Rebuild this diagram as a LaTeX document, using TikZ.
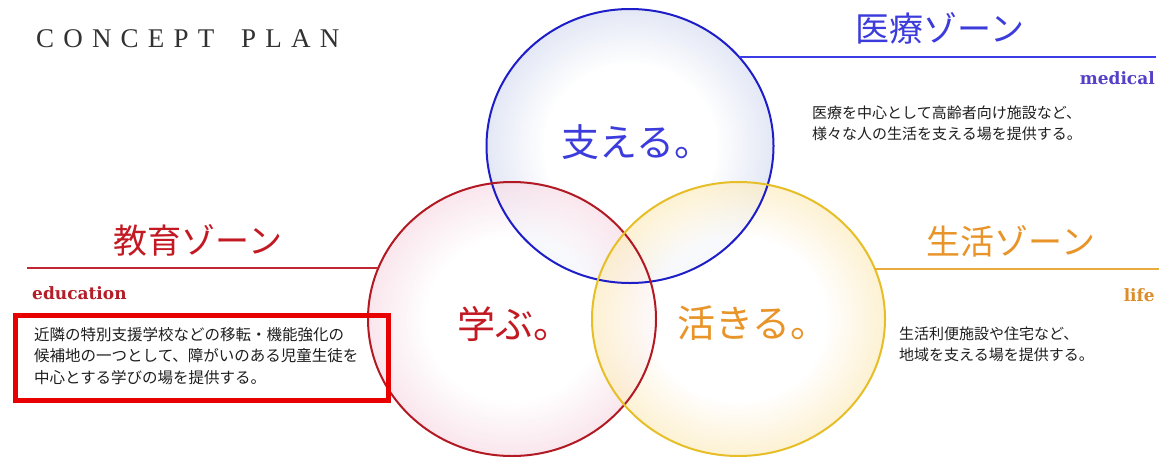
\documentclass[tikz,border=0pt]{standalone}
\usepackage{fontspec}
\setmainfont{Liberation Serif}
\newfontfamily\jp{Noto Sans CJK JP}
\newfontfamily\cpfont[LetterSpace=34]{Liberation Serif}
\newfontfamily\tagfont{DejaVu Serif}
\usetikzlibrary{shapes.geometric}
\definecolor{bluestroke}{RGB}{30,30,200}
\definecolor{bluetint}{RGB}{216,222,242}
\definecolor{redstroke}{RGB}{178,25,35}
\definecolor{redtint}{RGB}{248,220,230}
\definecolor{yelstroke}{RGB}{230,190,40}
\definecolor{yeltint}{RGB}{253,236,192}
\definecolor{bluetext}{RGB}{60,60,220}
\definecolor{redtext}{RGB}{195,25,35}
\definecolor{orgtext}{RGB}{232,148,40}
\definecolor{blueline}{RGB}{60,60,230}
\definecolor{redline}{RGB}{190,40,50}
\definecolor{yelline}{RGB}{235,170,60}
\definecolor{boxred}{RGB}{232,0,0}
\definecolor{desccol}{RGB}{30,30,30}
\definecolor{cpcol}{RGB}{50,50,50}
\definecolor{medcol}{RGB}{85,65,200}
\definecolor{educol}{RGB}{180,30,40}
\definecolor{lifecol}{RGB}{220,140,40}
\pgfdeclareradialshading{blueshade}{\pgfpoint{0bp}{0bp}}{color(0bp)=(white); color(15bp)=(white); color(25bp)=(bluetint); color(50bp)=(bluetint)}
\pgfdeclareradialshading{redshade}{\pgfpoint{0bp}{0bp}}{color(0bp)=(white); color(15bp)=(white); color(25bp)=(redtint); color(50bp)=(redtint)}
\pgfdeclareradialshading{yelshade}{\pgfpoint{0bp}{0bp}}{color(0bp)=(white); color(15bp)=(white); color(25bp)=(yeltint); color(50bp)=(yeltint)}
\begin{document}
\begin{tikzpicture}[x=1pt,y=-1pt,
  disc/.style={ellipse, inner sep=0pt, outer sep=0pt, fill opacity=0.7},
  rim/.style={line width=2pt},
  zone/.style={font=\jp\fontsize{34}{34}\selectfont, inner sep=0pt},
  desc/.style={font=\jp\fontsize{15}{21}\selectfont, text=desccol, align=left, inner sep=0pt, anchor=north west},
  tag/.style={font=\tagfont\bfseries\fontsize{17}{17}\selectfont, inner sep=0pt},
  big/.style={font=\jp\fontsize{38}{38}\selectfont, inner sep=0pt, anchor=west},
  zline/.style={line width=2pt}]
\useasboundingbox[fill=white] (0,0) rectangle (1159,456);
% circles (shaded)
\node[disc, minimum width=287pt, minimum height=274pt, shading=blueshade] (blue) at (630,146) {};
\node[disc, minimum width=288pt, minimum height=274pt, shading=redshade] (red) at (512,319) {};
\node[disc, minimum width=293pt, minimum height=274pt, shading=yelshade] (yel) at (738.5,319) {};
% rims
\draw[rim, bluestroke] (blue.center) ellipse [x radius=143.5pt, y radius=137pt];
\draw[rim, redstroke] (red.center) ellipse [x radius=144pt, y radius=137pt];
\draw[rim, yelstroke] (yel.center) ellipse [x radius=146.5pt, y radius=137pt];
% zone lines
\coordinate (bend) at (1156,57);
\coordinate (rend) at (27,268);
\coordinate (yend) at (1159,269);
\draw[zline, blueline] (blue.39) -- (blue.39 -| bend);
\draw[zline, redline] (red.159.2) -- (red.159.2 -| rend);
\draw[zline, yelline] (yel.20.2) -- (yel.20.2 -| yend);
% title
\node[font=\cpfont\fontsize{27}{27}\selectfont, text=cpcol, anchor=base west, inner sep=0pt] (title) at (36,47.5) {CONCEPT\hspace{11pt} PLAN};
% zone titles
\node[zone, text=bluetext] (medt) at (940,28) {医療ゾーン};
\node[zone, text=redtext] (edut) at (198,240) {教育ゾーン};
\node[zone, text=orgtext] (lift) at (1011,241) {生活ゾーン};
% english tags
\node[tag, text=medcol, anchor=base east] (medtag) at (1155,84) {medical};
\node[tag, text=educol, anchor=base west] (edutag) at (32,299) {education};
\node[tag, text=lifecol, anchor=base east] (liftag) at (1155,301) {life};
% circle labels
\node[big, text=bluetext] (sasaeru) at (561,142) {支える。};
\node[big, text=redtext] (manabu) at (457,324) {学ぶ。};
\node[big, text=orgtext] (ikiru) at (677,323) {活きる。};
% descriptions
\node[desc] (meddesc) at (812,106) {医療を中心として高齢者向け施設など、\\様々な人の生活を支える場を提供する。};
\node[desc] (lifdesc) at (899,327) {生活利便施設や住宅など、\\地域を支える場を提供する。};
\node[desc, font=\jp\fontsize{15.5}{21.5}\selectfont] (edudesc) at (34,327) {近隣の特別支援学校などの移転・機能強化の\\候補地の一つとして、障がいのある児童生徒を\\中心とする学びの場を提供する。};
% highlight box
\node[draw=boxred, line width=5pt, minimum width=373pt, minimum height=85pt, inner sep=0pt, anchor=north west] (hbox) at (12.5,312.5) {};
\end{tikzpicture}
\end{document}
